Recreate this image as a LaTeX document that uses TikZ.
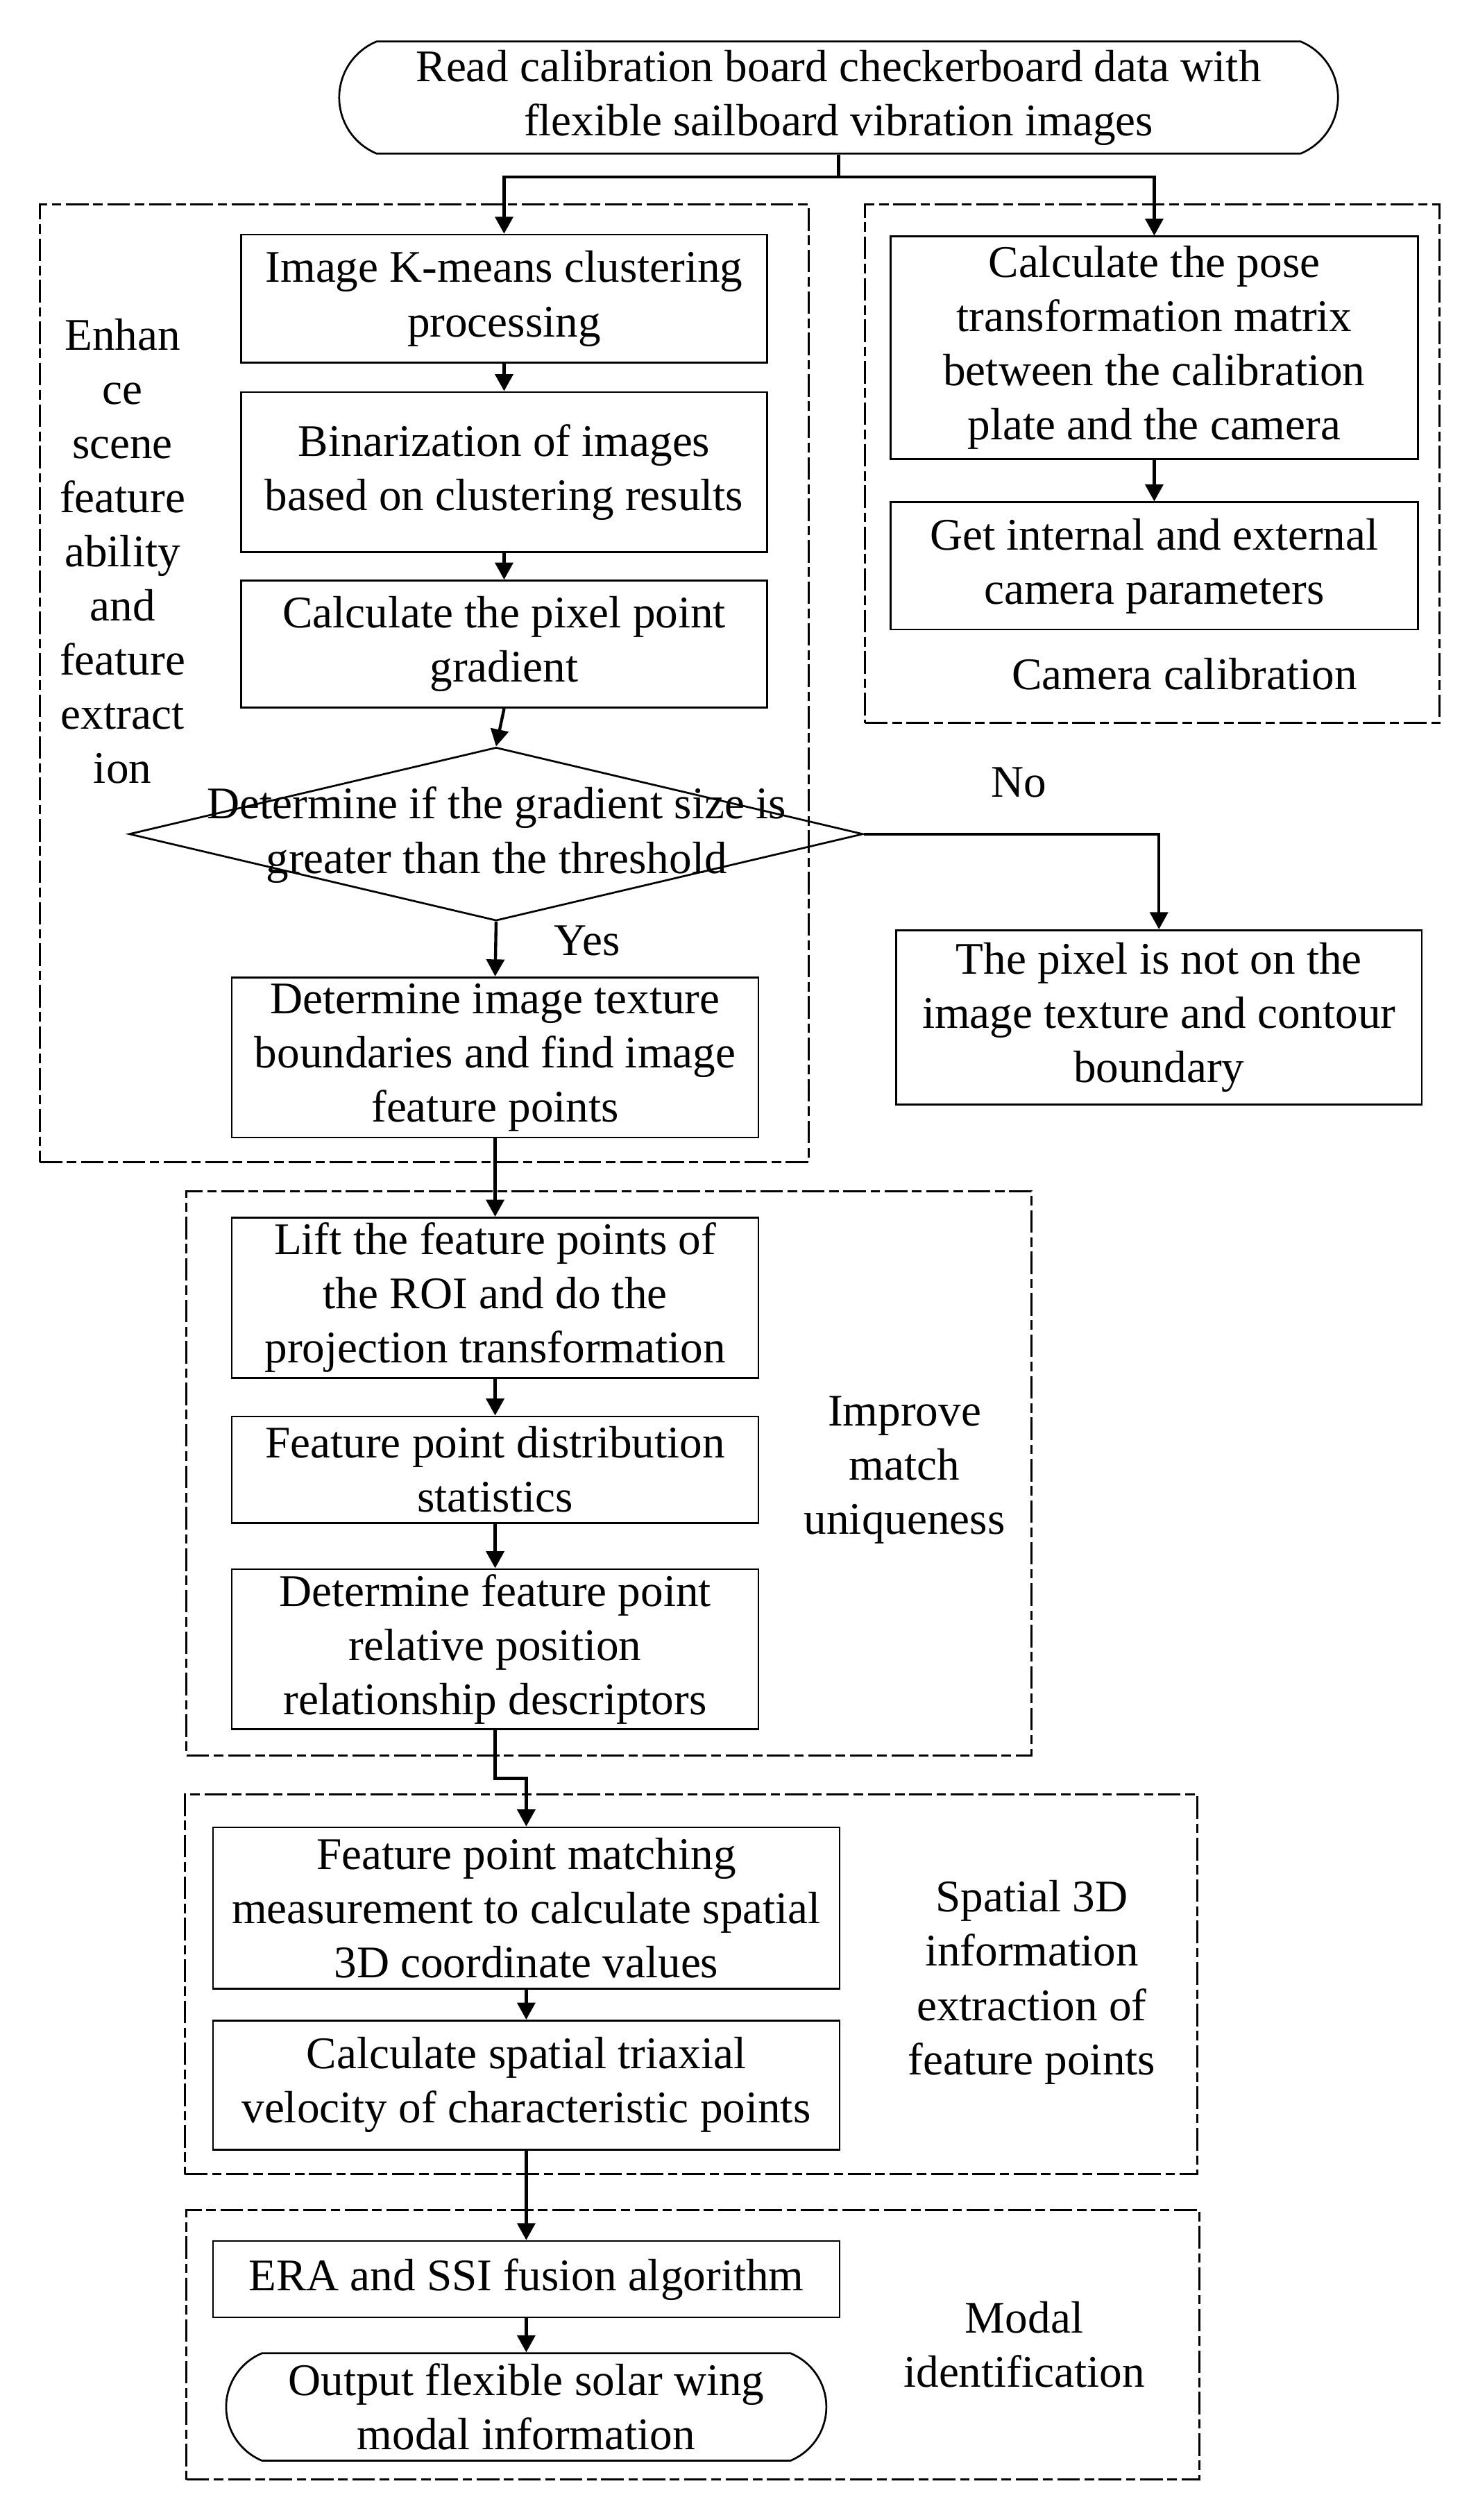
\documentclass[tikz,border=0pt]{standalone}
\usepackage{fontspec}
\setmainfont{Liberation Serif}
\usetikzlibrary{arrows.meta,shapes.geometric,shapes.misc}
\begin{document}
\begin{tikzpicture}[x=1pt,y=-1pt,
  every node/.style={font=\fontsize{48}{57.5}\selectfont, align=center, inner sep=0pt},
  wh/.style 2 args={minimum width=#1pt, minimum height=#2pt},
  box/.style={draw, line width=2pt, rectangle},
  term/.style={draw, line width=2pt, rounded rectangle, rounded rectangle arc length=135},
  grp/.style={draw, line width=2.2pt, dash pattern=on 24pt off 5pt on 10pt off 5pt},
  lnk/.style={line width=3.2pt},
  arr/.style={line width=3.2pt, -{Triangle[length=18pt,width=19pt]}},
]
\useasboundingbox (0,0) rectangle (1568,2674);

% groups
\node[grp, wh={816}{1016}] (g1) at (450,725) {};
\node[grp, wh={610}{550}] (g2) at (1223,492) {};
\node[grp, wh={897}{599}] (g3) at (646.5,1563.5) {};
\node[grp, wh={1075}{403}] (g4) at (733.5,2105.5) {};
\node[grp, wh={1075}{286}] (g5) at (735.5,2488) {};

% group labels
\node (t1) at (130,585) {Enhan\\ce\\scene\\feature\\ability\\and\\feature\\extract\\ion};
\node (t2) at (1257,715) {Camera calibration};
\node (t3) at (960,1560) {Improve\\match\\uniqueness};
\node (t4) at (1095,2103.5) {Spatial 3D\\information\\extraction of\\feature points};
\node (t5) at (1087,2487.5) {Modal\\identification};

% main nodes
\node[term, wh={1060}{119}] (top) at (890,103.5) {Read calibration board checkerboard data with\\flexible sailboard vibration images};
\node[box, wh={558}{136}] (b1) at (535,317) {Image K-means clustering\\processing};
\node[box, wh={558}{170}] (b2) at (535,501) {Binarization of images\\based on clustering results};
\node[box, wh={558}{135}] (b3) at (535,683.5) {Calculate the pixel point\\gradient};
\node[draw, line width=2pt, diamond, wh={779}{184}] (dia) at (526.5,885) {};
\node (dtxt) at (527,886) {Determine if the gradient size is\\greater than the threshold};
\node[box, wh={559}{170}] (b4) at (525.5,1122) {Determine image texture\\boundaries and find image\\feature points};
\node[box, wh={558}{185}] (no) at (1230,1079.5) {The pixel is not on the\\image texture and contour\\boundary};
\node[box, wh={560}{236}] (c1) at (1225,369) {Calculate the pose\\transformation matrix\\between the calibration\\plate and the camera};
\node[box, wh={560}{135}] (c2) at (1225,600.5) {Get internal and external\\camera parameters};
\node[box, wh={559}{170}] (l1) at (525.5,1377) {Lift the feature points of\\the ROI and do the\\projection transformation};
\node[box, wh={559}{113}] (l2) at (525.5,1559.5) {Feature point distribution\\statistics};
\node[box, wh={559}{170}] (l3) at (525.5,1750) {Determine feature point\\relative position\\relationship descriptors};
\node[box, wh={665}{171}] (m1) at (558.5,2024.5) {Feature point matching\\measurement to calculate spatial\\3D coordinate values};
\node[box, wh={665}{137}] (m2) at (558.5,2212.5) {Calculate spatial triaxial\\velocity of characteristic points};
\node[box, wh={665}{81}] (e1) at (558.5,2418.5) {ERA and SSI fusion algorithm};
\node[term, wh={637}{114}] (out) at (558.5,2554) {Output flexible solar wing\\modal information};

% labels
\node (lno) at (1081,830) {No};
\node (lyes) at (623,998) {Yes};

% connectors
\coordinate (j) at (890,188);
\draw[lnk] (top.south) -- (j);
\draw[arr] (j) -| (b1.north);
\draw[arr] (j) -| (c1.north);
\draw[arr] (b1.south) -- (b2.north);
\draw[arr] (b2.south) -- (b3.north);
\draw[arr] (b3.south) -- (dia.north);
\draw[arr] (dia.east) -| (no.north);
\draw[arr] (dia.south) -- (b4.north);
\draw[arr] (c1.south) -- (c2.north);
\draw[arr] (b4.south) -- (l1.north);
\draw[arr] (l1.south) -- (l2.north);
\draw[arr] (l2.south) -- (l3.north);
\draw[arr] (l3.south) -- ++(0,51) -| (m1.north);
\draw[arr] (m1.south) -- (m2.north);
\draw[arr] (m2.south) -- (e1.north);
\draw[arr] (e1.south) -- (out.north);
\end{tikzpicture}
\end{document}
